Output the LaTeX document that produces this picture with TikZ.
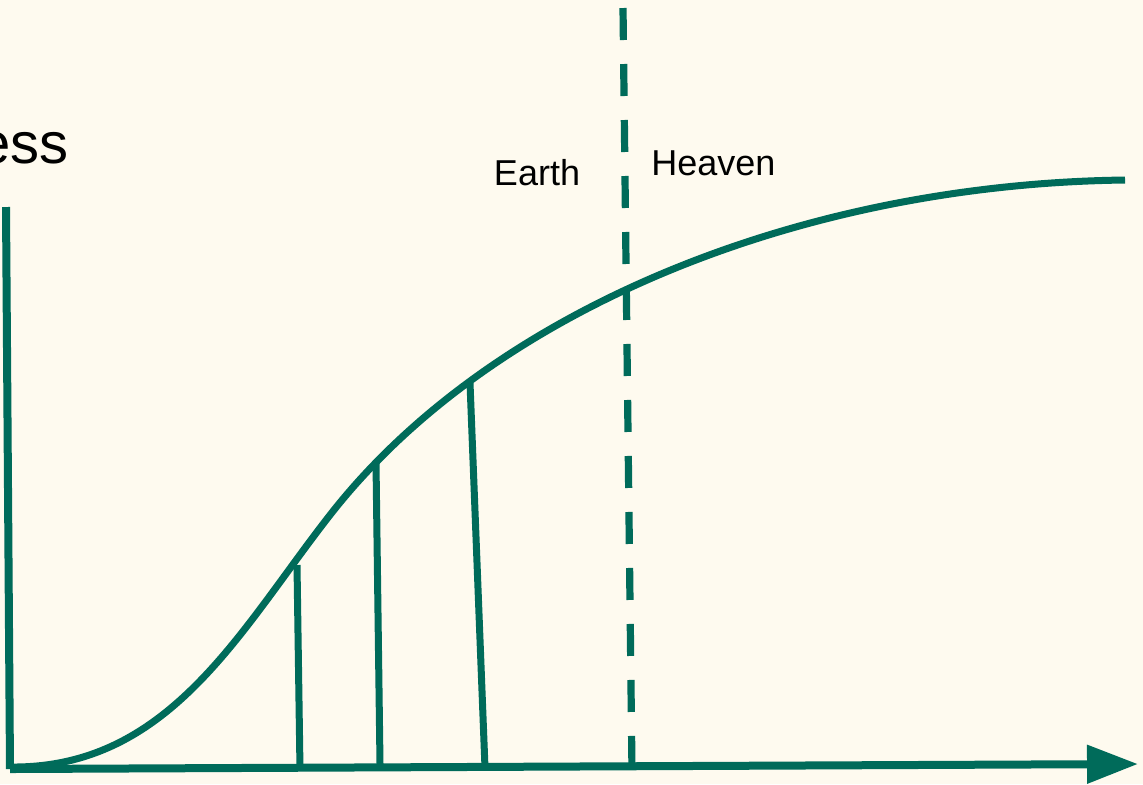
\documentclass[tikz,border=0pt]{standalone}
\usepackage{fontspec}
\setmainfont{Liberation Sans}
\usetikzlibrary{arrows.meta, positioning}

\definecolor{teal}{HTML}{006B5A}
\definecolor{cream}{HTML}{FEFAEF}

\begin{document}
\begin{tikzpicture}[
    x=0.5pt, y=-0.5pt,
    axis/.style={draw=teal, line width=4pt},
    curve/.style={draw=teal, line width=3.5pt},
    bar/.style={draw=teal, line width=3.5pt},
    split/.style={draw=teal, line width=3.6pt, dash pattern=on 16pt off 12pt},
    tag/.style={font=\fontsize{18}{20}\selectfont, inner sep=0pt}
]
\fill[cream] (0,0) rectangle (1143,784);
\useasboundingbox (0,0) rectangle (1143,784);

% axes
\coordinate (origin) at (10,769);
\coordinate (ytop) at (6,207);
\coordinate (xend) at (1138,764);
\draw[axis] (ytop) -- (origin);
\draw[axis, -{Triangle[length=25.5pt, width=18.5pt]}] (origin) -- (xend);

\node[anchor=base east, font=\fontsize{29}{32}\selectfont, inner sep=0pt] (ylabel) at (69,163) {ess};

% growth curve
\coordinate (start) at (12,767);
\coordinate (bend) at (330,515);
\coordinate (flat) at (1125,180);
\draw[curve] (start) .. controls (170,768) and (240,630) .. (bend)
    .. controls (490,310) and (800,184) .. (flat);

% bars under the curve
\coordinate (b1top) at (297,565);
\coordinate (b1bot) at (300,770);
\coordinate (b2top) at (376,463);
\coordinate (b2bot) at (380,764);
\coordinate (b3top) at (470,383);
\coordinate (b3bot) at (485,768);
\draw[bar] (b1top) -- (b1bot);
\draw[bar] (b2top) -- (b2bot);
\draw[bar] (b3top) -- (b3bot);

% dividing line
\coordinate (dtop) at (623,8);
\coordinate (dbot) at (632,772);
\draw[split] (dtop) -- (dbot);

\node[tag, anchor=base] (earth) at (537,185) {Earth};
\node[tag, anchor=base west] (heaven) at (651,175) {Heaven};
\end{tikzpicture}
\end{document}
